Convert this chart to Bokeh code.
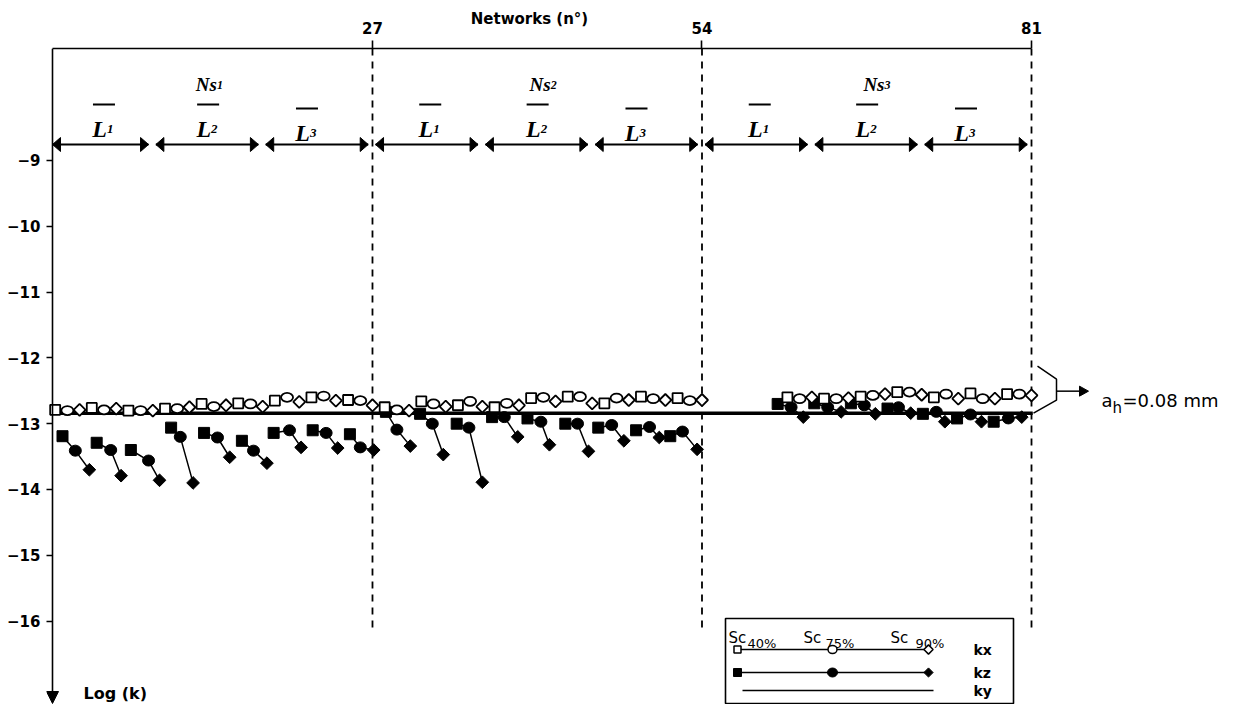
import numpy as np
from bokeh.plotting import figure
from bokeh.models import Range1d, FixedTicker, Arrow, NormalHead
from bokeh.core.properties import value
from bokeh.embed import file_html
from bokeh.resources import INLINE

# ---------------- data ----------------
x_ticks = [27, 54, 81]
y_ticks = [-9, -10, -11, -12, -13, -14, -15, -16]

# kx (open markers): network number and log(k)
kx_n = list(range(1, 55)) + list(range(61, 82))
kx_logk = [-12.79, -12.80, -12.79, -12.76, -12.79, -12.77, -12.80, -12.80, -12.80,
           -12.77, -12.77, -12.75, -12.70, -12.74, -12.72, -12.69, -12.70, -12.74,
           -12.65, -12.60, -12.67, -12.60, -12.58, -12.65, -12.64, -12.65, -12.72,
           -12.75, -12.79, -12.80, -12.66, -12.70, -12.74, -12.72, -12.66, -12.74,
           -12.75, -12.69, -12.72, -12.61, -12.60, -12.66, -12.59, -12.59, -12.69,
           -12.69, -12.61, -12.64, -12.59, -12.62, -12.64, -12.61, -12.65, -12.64,
           -12.60, -12.62, -12.60, -12.62, -12.62, -12.61, -12.59, -12.57, -12.55,
           -12.52, -12.52, -12.56, -12.60, -12.55, -12.62, -12.54, -12.62, -12.62,
           -12.55, -12.55, -12.57]

# kz (filled markers, triples Sc40%, Sc75%, Sc90%)
kz_n = [1.6, 2.65, 3.8, 4.4, 5.55, 6.4, 7.2, 8.65, 9.55,
        10.5, 11.25, 12.3, 13.2, 14.3, 15.3, 16.3, 17.25, 18.35,
        18.9, 20.2, 21.15, 22.1, 23.2, 24.15, 25.15, 26.0, 27.1,
        28.1, 29.0, 30.1, 30.9, 31.9, 32.8, 33.9, 34.9, 36.0,
        36.8, 37.8, 38.9, 39.7, 40.8, 41.5, 42.8, 43.8, 44.7,
        45.5, 46.6, 47.6, 48.6, 49.7, 50.5, 51.4, 52.4, 53.6,
        60.2, 61.3, 62.3, 63.2, 64.3, 65.4, 66.2, 67.3, 68.2,
        69.2, 70.1, 71.1, 72.1, 73.2, 73.9, 74.9, 76.0, 76.9,
        77.9, 79.1, 80.2]
kz_logk = [-13.19, -13.41, -13.70, -13.29, -13.40, -13.79, -13.40, -13.56, -13.86,
           -13.06, -13.20, -13.90, -13.14, -13.21, -13.51, -13.26, -13.41, -13.60,
           -13.14, -13.10, -13.36, -13.10, -13.14, -13.37, -13.16, -13.36, -13.40,
           -12.82, -13.09, -13.34, -12.85, -13.00, -13.47, -13.00, -13.06, -13.89,
           -12.90, -12.90, -13.20, -12.92, -12.97, -13.32, -13.00, -13.00, -13.42,
           -13.06, -13.02, -13.26, -13.10, -13.05, -13.21, -13.19, -13.12, -13.39,
           -12.70, -12.75, -12.90, -12.69, -12.75, -12.82, -12.69, -12.72, -12.85,
           -12.77, -12.75, -12.84, -12.85, -12.82, -12.97, -12.92, -12.86, -12.97,
           -12.97, -12.92, -12.90]

# ky (thick line)
ky_n = [0.78, 81.1]
ky_logk = [-12.84, -12.84]

x_title = "Networks (n°)"
y_title = "Log (k)"
group_labels = ["Ns", "Ns", "Ns"]
group_subs = ["1", "2", "3"]
len_subs = ["1", "2", "3"]
sc_labels = ["40%", "75%", "90%"]
series_labels = ["kx", "kz", "ky"]
ah_text = "=0.08 mm"

# ---------------- geometry ----------------
OX, OY = 0, 0                        # where the figure lands in the picture
FL, FT = 46, 48                      # frame left / top inside figure
FW, FH = 1176, 656
SX, SY = 12.204, 65.8                # px per unit
X0v = 0.78                           # position of the drawn y axis
X0 = X0v - 6 / SX
X1 = X0 + FW / SX
Y1 = -7.298
Y0 = Y1 - FH / SY


def dx(px):  # picture x -> data
    return X0 + (px - (FL + OX)) / SX


def dy(py):  # picture y -> data
    return Y1 - (py - (FT + OY)) / SY


p = figure(frame_width=FW, frame_height=FH, x_range=Range1d(X0, X1), y_range=Range1d(Y0, Y1),
           x_axis_location="above", toolbar_location=None, output_backend="svg",
           min_border_left=FL, min_border_top=FT, min_border_right=0, min_border_bottom=0)
p.title.visible = False
p.xgrid.visible = False
p.ygrid.visible = False
p.outline_line_color = None
p.background_fill_color = "white"
p.border_fill_color = "white"

# the label of the top axis is centred on the frame; trailing em spaces move it left
shift_px = (FL + OX + FW / 2) - 531
xa = p.xaxis[0]
xa.ticker = FixedTicker(ticks=x_ticks)
xa.bounds = (X0v, 81)
xa.axis_line_width = 1.6
xa.major_tick_out = 8
xa.major_tick_in = 0
xa.major_tick_line_width = 1.6
xa.minor_tick_line_color = None
xa.major_label_standoff = 7
xa.major_label_text_font = "DejaVu Sans"
xa.major_label_text_font_style = "bold"
xa.major_label_text_font_size = "15px"
xa.major_label_text_color = "black"
xa.axis_label = x_title + "\u2003" * int(round(2 * shift_px / 15))
xa.axis_label_standoff = -9
xa.axis_label_text_font = "DejaVu Sans"
xa.axis_label_text_font_style = "bold"
xa.axis_label_text_font_size = "15px"
xa.axis_label_text_color = "black"

ya = p.yaxis[0]
ya.ticker = FixedTicker(ticks=y_ticks)
ya.axis_line_color = None
ya.major_tick_out = 0
ya.major_tick_in = 6
ya.major_tick_line_width = 1.6
ya.minor_tick_line_color = None
ya.major_label_standoff = 6
ya.major_label_text_font = "DejaVu Sans"
ya.major_label_text_font_style = "bold"
ya.major_label_text_font_size = "15px"
ya.major_label_text_color = "black"

# drawn y axis (downward arrow)
p.add_layout(Arrow(end=NormalHead(size=12, fill_color="black", line_color="black"),
                   x_start=X0v, y_start=Y1, x_end=X0v, y_end=dy(703),
                   line_width=1.6, line_color="black"))
p.text(x=[dx(83)], y=[dy(693)], text=[y_title], text_align="left", text_baseline="middle",
       text_font=value("DejaVu Sans"), text_font_style="bold", text_font_size="16px")

# dashed separators
p.segment(x0=x_ticks, y0=[Y1] * 3, x1=x_ticks, y1=[dy(632)] * 3,
          line_dash="7 6", line_width=1.8, line_color="black")

# double arrows for segment ranges
arr_y = dy(144)
hl, hw = 8 / SX, 14 / SY
ax0, ax1 = [], []
for g in range(3):
    for k in range(3):
        a = 27 * g + 9 * k
        ax0.append(max(a + 0.25, X0v))
        ax1.append(a + 9 - 0.35)
p.segment(x0=ax0, y0=[arr_y] * 9, x1=ax1, y1=[arr_y] * 9, line_width=2, line_color="black")
hx, hy = [], []
for a, b in zip(ax0, ax1):
    hx.append([a, a + hl, a + hl]); hy.append([arr_y, arr_y + hw / 2, arr_y - hw / 2])
    hx.append([b, b - hl, b - hl]); hy.append([arr_y, arr_y + hw / 2, arr_y - hw / 2])
p.patches(hx, hy, fill_color="black", line_color="black")

# L labels with overline
l_off = [0.2, 0.0, -0.9]
lc, lsub, lbase, lbar = [], [], [], []
for g in range(3):
    for k in range(3):
        c = (ax0[3 * g + k] + ax1[3 * g + k]) / 2 + l_off[k]
        lc.append(c)
        lsub.append(len_subs[k])
        lbase.append(dy(128 if k < 2 else 132))
        lbar.append(dy(104 if k < 2 else 108))
p.text(x=lc, y=lbase, text=["L"] * 9, text_align="right", text_baseline="alphabetic",
       x_offset=4, text_font=value("Liberation Serif"), text_font_style="bold italic",
       text_font_size="24px", text_color="black")
p.text(x=lc, y=lbase, text=lsub, text_align="left", text_baseline="alphabetic",
       x_offset=4, text_font=value("Liberation Serif"), text_font_style="bold italic",
       text_font_size="13px", text_color="black")
p.segment(x0=[c - 10 / SX for c in lc], y0=lbar, x1=[c + 12 / SX for c in lc], y1=lbar,
          line_width=2.2, line_color="black")

# Ns labels
nc = [27 * g + 13.6 + 0.35 * g for g in range(3)]
p.text(x=nc, y=[dy(84)] * 3, text=group_labels, text_align="right", text_baseline="alphabetic",
       x_offset=8, text_font=value("Liberation Serif"), text_font_style="bold italic",
       text_font_size="19px", text_color="black")
p.text(x=nc, y=[dy(84)] * 3, text=group_subs, text_align="left", text_baseline="alphabetic",
       x_offset=8, text_font=value("Liberation Serif"), text_font_style="bold italic",
       text_font_size="12px", text_color="black")

# ky line
p.line(ky_n, ky_logk, line_width=3.5, line_color="black")

# kz: connecting lines + filled markers
kz_xs = [kz_n[i:i + 3] for i in range(0, len(kz_n), 3)]
kz_ys = [kz_logk[i:i + 3] for i in range(0, len(kz_logk), 3)]
p.multi_line(kz_xs, kz_ys, line_width=1.5, line_color="black")
p.scatter(kz_n[0::3], kz_logk[0::3], marker="square", size=11, fill_color="black", line_color="black")
p.ellipse(kz_n[1::3], kz_logk[1::3], width=12, height=11, width_units="screen",
          height_units="screen", fill_color="black", line_color="black")
p.scatter(kz_n[2::3], kz_logk[2::3], marker="square", angle=np.pi / 4, size=9,
          fill_color="black", line_color="black")

# kx: open markers
sq = [(n, v) for n, v in zip(kx_n, kx_logk) if n % 3 == 1]
ci = [(n, v) for n, v in zip(kx_n, kx_logk) if n % 3 == 2]
di = [(n, v) for n, v in zip(kx_n, kx_logk) if n % 3 == 0]
p.scatter([a for a, _ in sq], [b for _, b in sq], marker="square", size=10,
          fill_color="white", line_color="black", line_width=1.8)
p.ellipse([a for a, _ in ci], [b for _, b in ci], width=12, height=9, width_units="screen",
          height_units="screen", fill_color="white", line_color="black", line_width=1.8)
p.scatter([a for a, _ in di], [b for _, b in di], marker="square", angle=np.pi / 4, size=8.5,
          fill_color="white", line_color="black", line_width=1.8)

# bracket and a_h annotation
yb = ky_logk[-1]
p.line([dx(1037), dx(1056), dx(1056), dx(1033)],
       [yb + 47 / SY, yb + 34 / SY, yb + 13 / SY, yb], line_width=1.5, line_color="black")
ya_ = yb + 22 / SY
p.segment(x0=[dx(1056)], y0=[ya_], x1=[dx(1080)], y1=[ya_], line_width=1.5, line_color="black")
p.patches([[dx(1088), dx(1079), dx(1079)]], [[ya_, ya_ + 5 / SY, ya_ - 5 / SY]],
          fill_color="black", line_color="black")
p.text(x=[dx(1101)], y=[dy(400)], text=["a"], text_align="left", text_baseline="alphabetic",
       text_font=value("DejaVu Sans"), text_font_size="18px")
p.text(x=[dx(1112)], y=[dy(407)], text=["h"], text_align="left", text_baseline="alphabetic",
       text_font=value("DejaVu Sans"), text_font_size="15px")
p.text(x=[dx(1122)], y=[dy(400)], text=[ah_text], text_align="left", text_baseline="alphabetic",
       text_font=value("DejaVu Sans"), text_font_size="18px")

# legend box
p.quad(left=[dx(725)], right=[dx(1013)], top=[dy(618)], bottom=[dy(703)],
       fill_color="white", line_color="black", line_width=1.6)
lgx = [dx(737), dx(832), dx(928)]
sc_x = [dx(728), dx(803), dx(890)]
pc_x = [dx(747), dx(825), dx(915)]
p.text(x=sc_x, y=[dy(637)] * 3, text=["Sc"] * 3, text_align="left", text_baseline="alphabetic",
       text_font=value("DejaVu Sans"), text_font_size="15px")
p.text(x=pc_x, y=[dy(643)] * 3, text=sc_labels, text_align="left", text_baseline="alphabetic",
       text_font=value("DejaVu Sans"), text_font_size="13px")
r1, r2, r3 = dy(649), dy(672), dy(690)
p.line([lgx[0], lgx[2]], [r1, r1], line_width=1.5, line_color="black")
p.line([lgx[0], lgx[2]], [r2, r2], line_width=1.5, line_color="black")
p.line([dx(742), dx(933)], [r3, r3], line_width=1.5, line_color="black")
p.scatter([lgx[0]], [r1], marker="square", size=7, fill_color="white", line_color="black", line_width=1.5)
p.ellipse([lgx[1]], [r1], width=9, height=8, width_units="screen", height_units="screen",
          fill_color="white", line_color="black", line_width=1.5)
p.scatter([lgx[2]], [r1], marker="square", angle=np.pi / 4, size=6.5, fill_color="white",
          line_color="black", line_width=1.5)
p.scatter([lgx[0]], [r2], marker="square", size=8, fill_color="black", line_color="black")
p.ellipse([lgx[1]], [r2], width=10, height=9, width_units="screen", height_units="screen",
          fill_color="black", line_color="black")
p.scatter([lgx[2]], [r2], marker="square", angle=np.pi / 4, size=6.5, fill_color="black",
          line_color="black")
p.text(x=[dx(973)] * 3, y=[r1, r2, r3], text=series_labels, text_align="left",
       text_baseline="middle", text_font=value("DejaVu Sans"), text_font_style="bold",
       text_font_size="14px")

open("out.html", "w").write(file_html(p, INLINE))
